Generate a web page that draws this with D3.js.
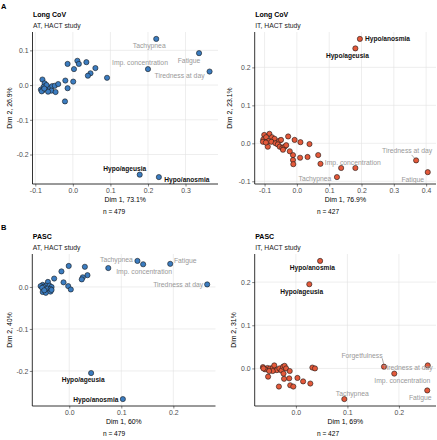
<!DOCTYPE html>
<html><head><meta charset="utf-8">
<script src="https://cdn.jsdelivr.net/npm/d3@7"></script>
<style>
body{margin:0;background:#fff;}
svg text{font-family:"Liberation Sans",Arial,sans-serif;}
</style></head>
<body><svg id="c" width="437" height="440"></svg>
<script>
// ---------- DATA ----------
// Panel A left: Long CoV, AT
const aLeftLabels = ["Tachypnea","Fatigue","Imp. concentration","Tiredness at day","Hypo/ageusia","Hypo/anosmia"];
const aLeftLabelX = [0.222,0.336,0.200,0.364,0.178,0.229];
const aLeftLabelY = [0.133,0.092,0.046,0.039,-0.258,-0.265];
const aLeftX = [-0.014,0.012,0.016,0.036,0.003,0.060,0.047,0.040,0.091,-0.081,-0.020,0.001,-0.075,-0.078,-0.085,-0.080,-0.068,-0.061,-0.055,-0.048,-0.039,-0.057,-0.066,-0.046,-0.014,-0.021,-0.083,-0.070,-0.076];
const aLeftY = [0.061,0.070,0.061,0.066,0.046,0.049,0.034,0.027,0.021,0.016,0.013,0.010,0.005,-0.005,-0.013,-0.015,-0.009,-0.007,-0.003,-0.002,0.003,-0.016,-0.019,-0.020,-0.009,-0.047,-0.018,0.000,-0.010];

// Panel A right: Long CoV, IT
const aRightLabels = ["Hypo/anosmia","Hypo/ageusia","Tiredness at day","Fatigue","Imp. concentration","Tachypnea"];
const aRightLabelX = [0.195,0.181,0.369,0.405,0.181,0.124];
const aRightLabelY = [0.275,0.250,-0.045,-0.076,-0.065,-0.089];
const aRightX = [0.137,0.073,0.066,0.033,0.039,0.011,-0.007,0.010,-0.012,-0.027,-0.022,-0.012,-0.011,-0.101,-0.085,-0.104,-0.095,-0.077,-0.069,-0.087,-0.079,-0.066,-0.054,-0.049,-0.090,-0.059,-0.053,-0.045,-0.038,-0.033,-0.043,-0.105,-0.096];
const aRightY = [-0.065,-0.054,-0.031,-0.036,-0.002,0.003,0.009,-0.038,-0.031,0.018,-0.021,-0.044,-0.055,0.022,0.025,0.010,0.016,0.016,0.012,0.006,0.004,0.000,0.007,0.009,-0.009,-0.003,-0.009,-0.012,-0.009,-0.005,-0.017,0.004,0.002];

// Panel B left: PASC, AT
const bLeftLabels = ["Tachypnea","Imp. concentration","Fatigue","Tiredness at day","Hypo/ageusia","Hypo/anosmia"];
const bLeftLabelX = [0.131,0.142,0.194,0.265,0.042,0.103];
const bLeftLabelY = [0.062,0.054,0.055,0.006,-0.205,-0.267];
const bLeftX = [0.075,-0.001,0.030,-0.015,-0.029,-0.011,0.035,0.026,0.024,-0.002,0.003,-0.041,-0.051,-0.045,-0.038,-0.055,-0.049,-0.034,-0.052,-0.042,-0.036,-0.051,-0.045,-0.036,-0.034,-0.048];
const bLeftY = [0.045,0.050,0.048,0.037,0.020,0.011,0.028,0.023,0.018,0.002,-0.006,0.012,0.005,0.003,0.003,0.002,0.000,0.000,-0.002,-0.004,-0.005,-0.012,-0.014,-0.011,-0.007,-0.008];

// Panel B right: PASC, IT
const bRightLabels = ["Hypo/anosmia","Hypo/ageusia","Forgetfulness","Tiredness at day","Imp. concentration","Fatigue","Tachypnea"];
const bRightLabelX = [0.047,0.026,0.171,0.256,0.191,0.255,0.094];
const bRightLabelY = [0.249,0.195,0.004,0.007,-0.012,-0.051,-0.071];
const bRightX = [0.032,0.037,0.003,0.014,0.028,-0.013,-0.011,-0.005,-0.023,-0.033,-0.054,-0.064,-0.055,-0.060,-0.050,-0.045,-0.042,-0.037,-0.045,-0.052,-0.032,-0.028,-0.025,-0.022,-0.019,-0.012,-0.024,-0.063];
const bRightY = [0.002,0.000,-0.022,-0.030,-0.035,-0.023,-0.039,-0.042,-0.024,-0.042,-0.019,0.003,0.001,-0.002,0.000,0.001,0.007,-0.004,-0.006,-0.006,0.000,-0.005,0.004,0.006,0.000,-0.006,-0.012,0.000];

// Tick values
const aLeftXTicks = [-0.1,0,0.1,0.2,0.3], aLeftYTicks = [-0.2,-0.1,0,0.1];
const aRightXTicks = [-0.1,0,0.1,0.2,0.3,0.4], aRightYTicks = [-0.1,0,0.1,0.2];
const bLeftXTicks = [0,0.1,0.2], bLeftYTicks = [-0.2,-0.1,0];
const bRightXTicks = [0,0.1,0.2], bRightYTicks = [0,0.1,0.2];

// Texts
const titles = ["Long CoV","Long CoV","PASC","PASC"];
const subtitles = ["AT, HACT study","IT, HACT study","AT, HACT study","IT, HACT study"];
const xTitles = ["Dim 1, 73.1%","Dim 1, 76.9%","Dim 1, 60%","Dim 1, 69%"];
const yTitles = ["Dim 2, 26.9%","Dim 2, 23.1%","Dim 2, 40%","Dim 2, 31%"];
const nTexts = ["n = 479","n = 427","n = 479","n = 427"];
const boldLabels = ["Hypo/anosmia","Hypo/ageusia"];

// ---------- LAYOUT (positions/styles, not data) ----------
const layout = [
  {x0:32.5,x1:218,y0:32,y1:184,ytx:9.5,nx:114,fill:"#3b7cc0",
   off:[[-7,7],[-10,7],[-8,-6],[-30,4],[-15,-6],[28,2.3]], lead:[null,null,null,null,null,null]},
  {x0:254.7,x1:436,y0:32,y1:184,ytx:230,nx:328,fill:"#e4593a",
   off:[[27.6,0],[-8,7],[-9,-10],[-15,7],[-2.6,-5.6],[-22,2]], lead:[null,null,[-4.5,-5.5,-1.6,-2.2],null,null,null]},
  {x0:32.3,x1:215.5,y0:254,y1:406,ytx:10,nx:114,fill:"#3b7cc0",
   off:[[-21,-1.4],[1,7.7],[15,-3.7],[-29,0],[-8,7],[-27,1]], lead:[null,null,null,null,null,null]},
  {x0:254.7,x1:436,y0:254,y1:406,ytx:234,nx:328,fill:"#e4593a",
   off:[[-7.7,7],[-7.6,7.3],[-22,-10.7],[-20,2],[8,7],[-7,7],[8,-5.7]], lead:[null,null,[-1.8,-8.5,-0.3,-2.7],null,null,null,null]}
];

const panels = [
  {lab:aLeftLabels,lx:aLeftLabelX,ly:aLeftLabelY,px:aLeftX,py:aLeftY,xt:aLeftXTicks,yt:aLeftYTicks},
  {lab:aRightLabels,lx:aRightLabelX,ly:aRightLabelY,px:aRightX,py:aRightY,xt:aRightXTicks,yt:aRightYTicks},
  {lab:bLeftLabels,lx:bLeftLabelX,ly:bLeftLabelY,px:bLeftX,py:bLeftY,xt:bLeftXTicks,yt:bLeftYTicks},
  {lab:bRightLabels,lx:bRightLabelX,ly:bRightLabelY,px:bRightX,py:bRightY,xt:bRightXTicks,yt:bRightYTicks}
];

const svg = d3.select("#c");
const fmt = v => (Math.abs(v) < 1e-9 ? 0 : v).toFixed(1);

svg.append("text").attr("x",1).attr("y",8.5).attr("font-size",7.5).attr("font-weight","bold").text("A");
svg.append("text").attr("x",1).attr("y",230).attr("font-size",7.5).attr("font-weight","bold").text("B");

panels.forEach((p,i) => {
  const L = layout[i];
  const allX = p.px.concat(p.lx), allY = p.py.concat(p.ly);
  const ex = d3.extent(allX), ey = d3.extent(allY);
  const dx = (ex[1]-ex[0])*0.05, dy = (ey[1]-ey[0])*0.05;
  const x = d3.scaleLinear().domain([ex[0]-dx, ex[1]+dx]).range([L.x0, L.x1]);
  const y = d3.scaleLinear().domain([ey[0]-dy, ey[1]+dy]).range([L.y1, L.y0]);
  const g = svg.append("g");

  // grid
  g.selectAll(".gx").data(p.xt).join("line")
    .attr("x1",d=>x(d)).attr("x2",d=>x(d)).attr("y1",L.y0).attr("y2",L.y1)
    .attr("stroke","#e3e3e3").attr("stroke-width",0.6);
  g.selectAll(".gy").data(p.yt).join("line")
    .attr("y1",d=>y(d)).attr("y2",d=>y(d)).attr("x1",L.x0).attr("x2",L.x1)
    .attr("stroke","#e3e3e3").attr("stroke-width",0.6);

  // axes
  const xa = d3.axisBottom(x).tickValues(p.xt).tickFormat(fmt).tickSize(2.5).tickPadding(1.5);
  const ya = d3.axisLeft(y).tickValues(p.yt).tickFormat(fmt).tickSize(2.5).tickPadding(1.5);
  const gx = g.append("g").attr("transform",`translate(0,${L.y1})`).call(xa);
  const gy = g.append("g").attr("transform",`translate(${L.x0},0)`).call(ya);
  [gx,gy].forEach(a => {
    a.select(".domain").remove();
    a.selectAll(".tick line").attr("stroke","#333").attr("stroke-width",0.6);
    a.selectAll(".tick text").attr("fill","#4d4d4d").attr("font-size",6.9)
      .attr("font-family","'Liberation Sans',Arial,sans-serif");
  });
  g.append("line").attr("x1",L.x0).attr("x2",L.x1).attr("y1",L.y1).attr("y2",L.y1).attr("stroke","#000").attr("stroke-width",0.8);
  g.append("line").attr("x1",L.x0).attr("x2",L.x0).attr("y1",L.y0).attr("y2",L.y1).attr("stroke","#000").attr("stroke-width",0.8);

  // titles
  g.append("text").attr("x",L.x0+0.5).attr("y",L.y0-15).attr("font-size",7).attr("font-weight","bold").text(titles[i]);
  g.append("text").attr("x",L.x0+0.5).attr("y",L.y0-4.5).attr("font-size",6.8).attr("fill","#222").text(subtitles[i]);
  g.append("text").attr("x",(L.x0+L.x1)/2).attr("y",L.y1+18).attr("text-anchor","middle").attr("font-size",6.9).text(xTitles[i]);
  g.append("text").attr("transform",`translate(${L.ytx},${(L.y0+L.y1)/2}) rotate(-90)`)
    .attr("text-anchor","middle").attr("dy","0.35em").attr("font-size",6.9).text(yTitles[i]);
  g.append("text").attr("x",L.nx).attr("y",L.y1+30).attr("text-anchor","middle").attr("font-size",6.6).text(nTexts[i]);

  // points
  const pts = p.px.map((v,k)=>[v,p.py[k]]).concat(p.lx.map((v,k)=>[v,p.ly[k]]));
  g.selectAll(".pt").data(pts).join("circle")
    .attr("cx",d=>x(d[0])).attr("cy",d=>y(d[1])).attr("r",2.6)
    .attr("fill",L.fill).attr("stroke","#1a1a1a").attr("stroke-width",0.6);

  // leaders
  p.lab.forEach((name,k) => {
    const ld = L.lead[k];
    if (!ld) return;
    const cx = x(p.lx[k]), cy = y(p.ly[k]);
    g.append("line").attr("x1",cx+ld[0]).attr("y1",cy+ld[1]).attr("x2",cx+ld[2]).attr("y2",cy+ld[3])
      .attr("stroke","#777").attr("stroke-width",0.6);
  });
  // labels
  p.lab.forEach((name,k) => {
    const bold = boldLabels.includes(name);
    const cx = x(p.lx[k]), cy = y(p.ly[k]);
    g.append("text").attr("x",cx+L.off[k][0]).attr("y",cy+L.off[k][1]).attr("dy","0.35em")
      .attr("text-anchor","middle").attr("font-size",bold?6.6:6.8)
      .attr("font-weight",bold?"bold":"normal").attr("fill",bold?"#111":"#999")
      .text(name);
  });
});
</script></body></html>
